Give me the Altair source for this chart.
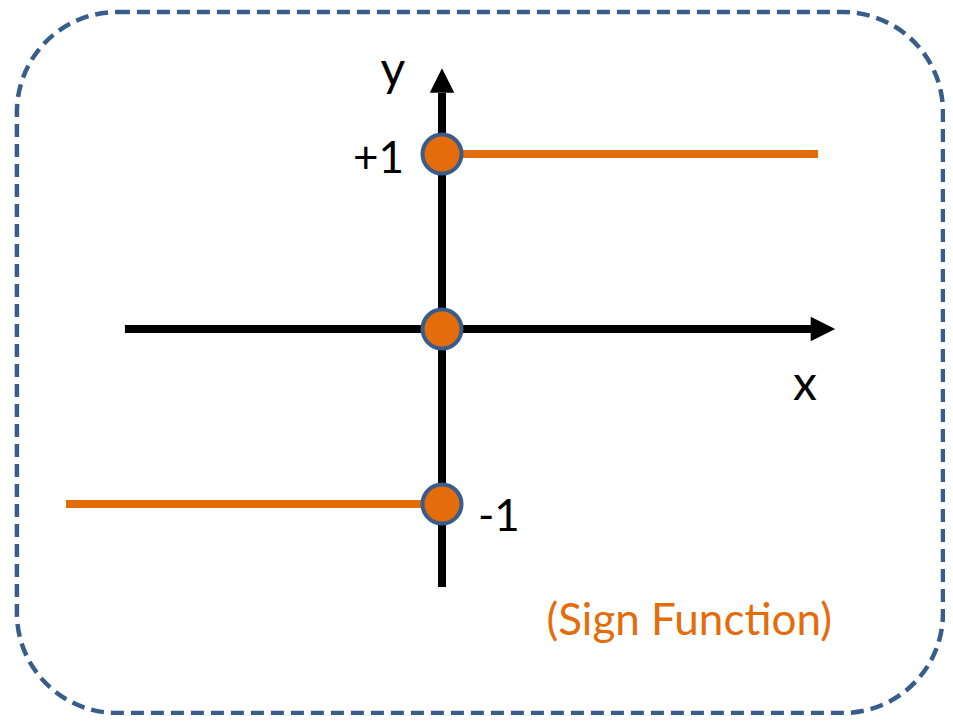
import altair as alt
import pandas as pd

# ---- data (function space: 1 unit on each axis) ----
# sign function: horizontal segments
seg_x_start = [-2.155, 0.0]
seg_x_end = [0.0, 2.155]
seg_y = [-1, 1]

# marked points of sgn(x) at x = 0 and its levels
dot_x = [0, 0, 0]
dot_y = [1, 0, -1]

# coordinate axes (extents) and arrow heads
axis_names = ["x", "y"]
axis_x_start = [-1.817, 0.0]
axis_x_end = [2.115, 0.0]
axis_y_start = [0.0, -1.474]
axis_y_end = [0.0, 1.349]

arrow_x = [2.183, 0.0]
arrow_y = [0.0, 1.42]
arrow_shape = ["M-1,-1L1,0L-1,1Z", "M-1,1L0,-1L1,1Z"]

# frame (rounded dashed border)
frame_x = [-2.436]
frame_x2 = [2.871]
frame_y = [1.811]
frame_y2 = [-2.194]

# labels
tick_labels = ["+1", "-1"]
axis_labels = ["y", "x"]
title_text = ["(Sign Function)"]

ORANGE = "#E46C0A"
BLUE = "#385D8A"
FONT = "Lato"

xs = alt.Scale(domain=[-2.4871, 2.8825], nice=False, zero=False)
ys = alt.Scale(domain=[-2.2057, 1.8343], nice=False, zero=False)


def X(field):
    return alt.X(field, type="quantitative", scale=xs, axis=None)


def Y(field):
    return alt.Y(field, type="quantitative", scale=ys, axis=None)


frame_df = pd.DataFrame({"x": frame_x, "x2": frame_x2, "y": frame_y, "y2": frame_y2})
frame = alt.Chart(frame_df).mark_rect(
    cornerRadius=100, fill="white", fillOpacity=0, stroke=BLUE, strokeWidth=4.5,
    strokeDash=[13, 7]
).encode(x=X("x"), x2="x2", y=Y("y"), y2="y2")

seg_df = pd.DataFrame({"x": seg_x_start, "x2": seg_x_end, "y": seg_y})
segs = alt.Chart(seg_df).mark_rule(color=ORANGE, strokeWidth=8, strokeCap="butt").encode(
    x=X("x"), x2="x2", y=Y("y")
)

axis_df = pd.DataFrame({"name": axis_names, "x": axis_x_start, "x2": axis_x_end,
                        "y": axis_y_start, "y2": axis_y_end})
axes = alt.Chart(axis_df).mark_rule(color="black", strokeWidth=8, strokeCap="butt").encode(
    x=X("x"), x2="x2", y=Y("y"), y2="y2"
)

arrow_layers = []
for ax_, ay_, shp in zip(arrow_x, arrow_y, arrow_shape):
    adf = pd.DataFrame({"x": [ax_], "y": [ay_]})
    arrow_layers.append(
        alt.Chart(adf).mark_point(shape=shp, size=600, filled=True, color="black",
                                  opacity=1, strokeWidth=0).encode(x=X("x"), y=Y("y"))
    )

dot_df = pd.DataFrame({"x": dot_x, "y": dot_y})
dots = alt.Chart(dot_df).mark_point(
    shape="circle", size=1521, filled=True, fill=ORANGE, stroke=BLUE, strokeWidth=4,
    opacity=1, fillOpacity=1, strokeOpacity=1
).encode(x=X("x"), y=Y("y"))

# label positions
plus_df = pd.DataFrame({"t": [tick_labels[0]], "x": [-0.218], "y": [0.891]})
minus_df = pd.DataFrame({"t": [tick_labels[1]], "x": [0.206], "y": [-1.154]})
ylab_df = pd.DataFrame({"t": [axis_labels[0]], "x": [-0.281], "y": [1.39]})
xlab_df = pd.DataFrame({"t": [axis_labels[1]], "x": [2.080], "y": [-0.406]})
title_df = pd.DataFrame({"t": title_text, "x": [2.235], "y": [-1.749]})

plus_t = alt.Chart(plus_df).mark_text(font=FONT, fontSize=44, align="right",
                                      baseline="alphabetic", color="black").encode(
    x=X("x"), y=Y("y"), text="t:N")
minus_t = alt.Chart(minus_df).mark_text(font=FONT, fontSize=44, align="left",
                                        baseline="alphabetic", color="black").encode(
    x=X("x"), y=Y("y"), text="t:N")
ylab_t = alt.Chart(ylab_df).mark_text(font=FONT, fontSize=48, align="center",
                                      baseline="alphabetic", color="black").encode(
    x=X("x"), y=Y("y"), text="t:N")
xlab_t = alt.Chart(xlab_df).mark_text(font=FONT, fontSize=48, align="center",
                                      baseline="alphabetic", color="black").encode(
    x=X("x"), y=Y("y"), text="t:N")
title_t = alt.Chart(title_df).mark_text(font=FONT, fontSize=44, align="right",
                                        baseline="alphabetic", color=ORANGE).encode(
    x=X("x"), y=Y("y"), text="t:N")

chart = alt.layer(
    frame, segs, axes, *arrow_layers, dots, plus_t, minus_t, ylab_t, xlab_t, title_t
).properties(
    width=937, height=707, padding=0, autosize=alt.AutoSizeParams(type="none"),
    background="white"
).configure_view(strokeWidth=0)

chart.save("out.html", embed_options={"renderer": "svg", "actions": False})
